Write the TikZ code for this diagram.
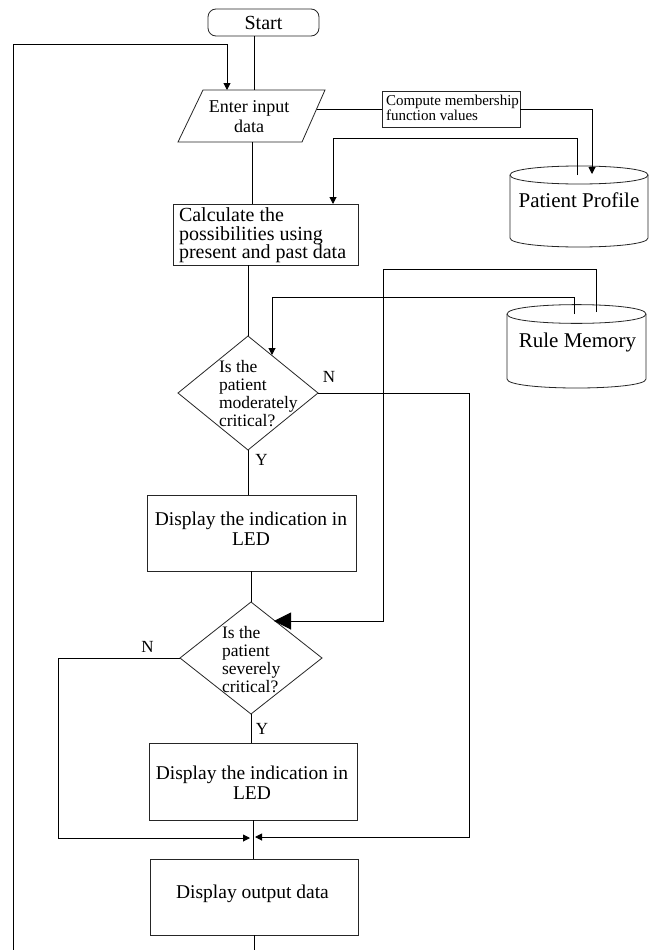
\documentclass[tikz,border=0pt]{standalone}
\usepackage{fontspec}
\setmainfont{Liberation Serif}
\usetikzlibrary{arrows.meta,shapes.geometric}
\begin{document}
\begin{tikzpicture}[x=1pt,y=-1pt,
  shp/.style={draw=black!85, line width=0.8pt},
  box/.style={shp, rectangle, inner sep=0pt},
  dia/.style={shp, diamond, inner sep=0pt, outer sep=0pt},
  txt/.style={inner sep=0pt, outer sep=0pt},
  con/.style={draw=black, line width=1pt},
  arr/.style={con, -{Triangle[length=7pt,width=7pt]}},
  bigarr/.style={con, -{Triangle[length=17pt,width=17pt]}},
  fdisp/.style={font=\fontsize{19.5}{20}\selectfont},
  fdia/.style={font=\fontsize{17.5}{17.7}\selectfont},
  flab/.style={font=\fontsize{17}{18}\selectfont}
]
\useasboundingbox[fill=white] (0,0) rectangle (651,950);

% ---------- nodes ----------
\node[box, rounded corners=8pt, minimum width=111pt, minimum height=27pt,
      font=\fontsize{20}{22}\selectfont] (start) at (263.5,22.5) {Start};

\draw[shp] (203,90) -- (325,90) -- (302,142) -- (178,142) -- cycle;
\node[txt, align=center, font=\fontsize{18}{20}\selectfont] (enter) at (249,117) {Enter input\\data};

\node[box, minimum width=138pt, minimum height=36pt] (compute) at (451,109) {};
\node[txt, anchor=west, align=left, font=\fontsize{15}{15}\selectfont] (computetxt) at (386,108)
  {Compute membership\\function values};

\node[box, minimum width=185pt, minimum height=61pt] (calc) at (265.5,234.5) {};
\node[txt, anchor=west, align=left, font=\fontsize{20}{18.5}\selectfont] (calctxt) at (179,235.5)
  {Calculate the\\possibilities using\\present and past data};

% Patient Profile cylinder
\draw[shp] (510,175) .. controls (510,163) and (648,163) .. (648,175)
            .. controls (648,187) and (510,187) .. (510,175);
\draw[shp] (510,175) -- (510,238) .. controls (510,250) and (648,250) .. (648,238) -- (648,175);
\node[txt, font=\fontsize{21}{22}\selectfont] (pp) at (579,200) {Patient Profile};

% Rule Memory cylinder
\draw[shp] (507,314) .. controls (507,301.5) and (646,301.5) .. (646,314)
            .. controls (646,326.5) and (507,326.5) .. (507,314);
\draw[shp] (507,314) -- (507,379) .. controls (507,391) and (646,391) .. (646,379) -- (646,314);
\node[txt, font=\fontsize{21}{22}\selectfont] (rm) at (577.5,342) {Rule Memory};

\node[dia, minimum width=140pt, minimum height=114pt] (d1) at (248,393) {};
\node[txt, fdia, anchor=west, align=left] (d1txt) at (219,393.5)
  {Is the\\patient\\moderately\\critical?};

\node[box, minimum width=209pt, minimum height=76pt] (led1) at (251.5,533) {};
\node[txt, fdisp, align=center] (led1txt) at (251,529) {Display the indication in\\LED};

\node[dia, minimum width=142pt, minimum height=112pt] (d2) at (251,658) {};
\node[txt, fdia, anchor=west, align=left] (d2txt) at (222,659.5)
  {Is the\\patient\\severely\\critical?};

\node[box, minimum width=208pt, minimum height=77pt] (led2) at (253,781.5) {};
\node[txt, fdisp, align=center] (led2txt) at (252,783) {Display the indication in\\LED};

\node[box, minimum width=208pt, minimum height=76pt] (out) at (254,897) {};
\node[txt, fdisp] (outtxt) at (252.5,894) {Display output data};

% labels
\node[txt, flab] (n1) at (329,377) {N};
\node[txt, flab] (y1) at (261.5,460) {Y};
\node[txt, flab] (n2) at (147.5,646.5) {N};
\node[txt, flab] (y2) at (262,728.5) {Y};

% ---------- coordinates ----------
\coordinate (enterR) at (316.6,109);
\coordinate (loopB) at (13,950);
\coordinate (outB) at (254,950);
\coordinate (mergeL) at (250,838);
\coordinate (mergeR) at (255,837);
\coordinate (d2in) at (274,621);
\coordinate (d1in) at (272,355);

% ---------- connectors ----------
\draw[con] ([xshift=-9.5pt]start.south) -- (254,90);
\draw[arr] (loopB) -- (13,45) -- (227,45) -- (227,90);
\draw[con] (out.south) -- (outB);
\draw[con] (enterR) -- (compute.west);
\draw[arr] (compute.east) -- (592,109) -- (592,174);
\draw[arr] (577,175) -- (577,138) -- (333,138) -- (333,204);
\draw[con] (252,142) -- (252,204);
\draw[con] (248,265) -- (d1.north);
\draw[arr] (574,314) -- (574,297) -- (272,297) -- (d1in);
\draw[bigarr] (596,312) -- (596,269) -- (383,269) -- (383,621) -- (d2in);
\draw[con] (d1.south) -- (248,495);
\draw[arr] (d1.east) -- (469,393) -- (469,837) -- (mergeR);
\draw[con] (251,571) -- (d2.north);
\draw[con] (d2.south) -- (251,743);
\draw[arr] (d2.west) -- (58,658) -- (58,838) -- (mergeL);
\draw[con] (253,820) -- (253,859);
\end{tikzpicture}
\end{document}
